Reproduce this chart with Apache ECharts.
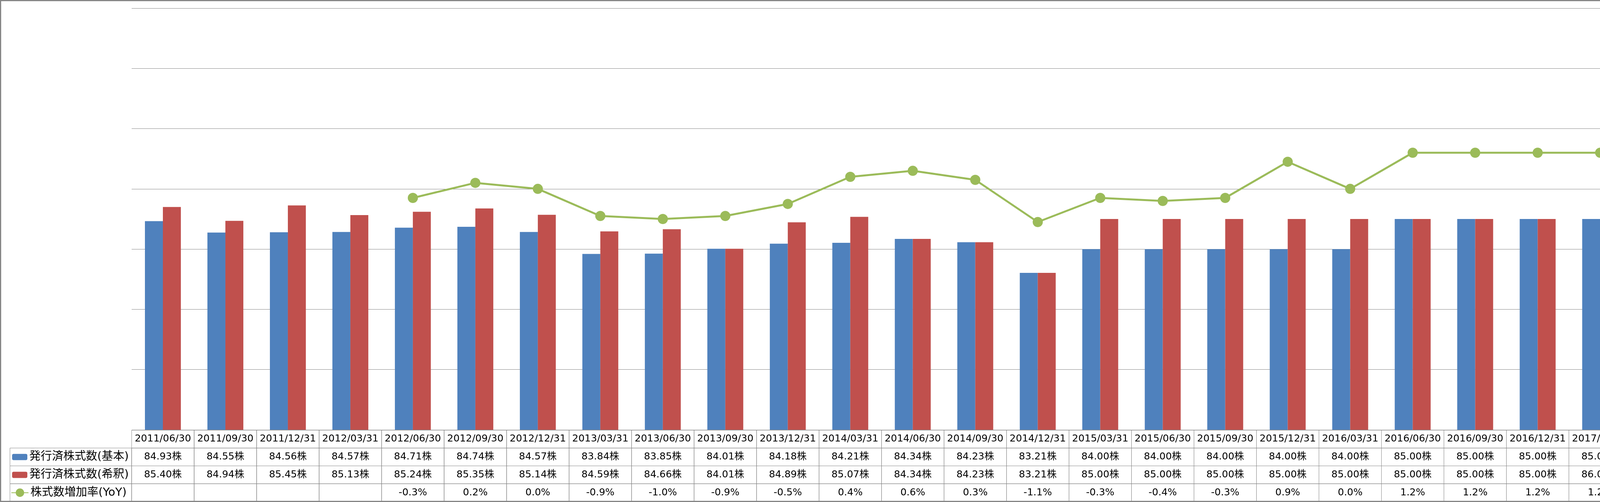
<!DOCTYPE html>
<html><head><meta charset="utf-8">
<script src="https://cdn.jsdelivr.net/npm/echarts@6/dist/echarts.min.js"></script>
<style>html,body{margin:0;padding:0;background:#fff;overflow:hidden}#c{width:7052px;height:1286px}</style>
</head><body><div id="c"></div>
<script>
const categories = ['2011/06/30','2011/09/30','2011/12/31','2012/03/31','2012/06/30','2012/09/30','2012/12/31','2013/03/31','2013/06/30','2013/09/30','2013/12/31','2014/03/31','2014/06/30','2014/09/30','2014/12/31','2015/03/31','2015/06/30','2015/09/30','2015/12/31','2016/03/31','2016/06/30','2016/09/30','2016/12/31','2017/03/31','2017/06/30','2017/09/30','2017/12/31','2018/03/31','2018/06/30','2018/09/30','2018/12/31','2019/03/31','2019/06/30','2019/09/30','2019/12/31','2020/03/31','2020/06/30','2020/09/30','2020/12/31','2021/03/31'];
const basicShares = [84.93,84.55,84.56,84.57,84.71,84.74,84.57,83.84,83.85,84.01,84.18,84.21,84.34,84.23,83.21,84.00,84.00,84.00,84.00,84.00,85.00,85.00,85.00,85.00,85.00,85.00,85.00,85.00,86.00,86.00,89.00,86.00,87.00,86.00,83.00,86.00,86.00,86.00,86.00,86.00];
const dilutedShares = [85.40,84.94,85.45,85.13,85.24,85.35,85.14,84.59,84.66,84.01,84.89,85.07,84.34,84.23,83.21,85.00,85.00,85.00,85.00,85.00,85.00,85.00,85.00,86.00,86.00,85.00,89.00,86.00,86.00,87.00,90.00,88.00,88.00,88.00,88.00,88.00,87.00,88.00,87.00,88.00];
const yoyGrowth = [null,null,null,null,-0.3,0.2,0.0,-0.9,-1.0,-0.9,-0.5,0.4,0.6,0.3,-1.1,-0.3,-0.4,-0.3,0.9,0.0,1.2,1.2,1.2,1.2,0.0,0.0,0.0,0.0,1.2,1.2,4.7,1.2,1.2,0.0,-6.7,0.0,-1.1,0.0,3.6,0.0];
const shareTicks = [78,80,82,84,86,88,90,92];
const pctTicks = [-8,-6,-4,-2,0,2,4,6];

const nameBasic = '発行済株式数(基本)';
const nameDiluted = '発行済株式数(希釈)';
const nameYoy = '株式数増加率(YoY)';
const unitText = '（単位:百万株）';

const FONT = '"DejaVu Sans", "Noto Sans CJK JP", sans-serif';
const BLUE = '#4F81BD', RED = '#C0504D', GREEN = '#9BBB59', BORDER = '#898989';

const tableData = [], tableText = [];
categories.forEach((c, i) => {
  const rows = [
    c,
    basicShares[i].toFixed(2) + '株',
    dilutedShares[i].toFixed(2) + '株',
    yoyGrowth[i] == null ? '' : yoyGrowth[i].toFixed(1) + '%'
  ];
  rows.forEach((t, r) => { tableData.push([i, r]); tableText.push(t); });
});

const W = 7052, H = 1286;
const plotLeft = 337, plotRight = 6736, plotTop = 21, plotBottom = 1101;
const tableTop = 1102, tableBottom = 1285;
const rowH = (tableBottom - tableTop) / 4;
const legendColLeft = 25.5;

const chart = echarts.init(document.getElementById('c'), null, {renderer: 'canvas'});

function legendItem(name, left, rowIdx, isLine) {
  const cy = tableTop + rowH * (rowIdx + 0.5);
  const ih = isLine ? 27 : 16;
  const h = 29;
  return {
    data: [name], left: left, top: cy - h / 2, padding: 0,
    itemWidth: isLine ? 44 : 39, itemHeight: ih, itemGap: 0,
    textStyle: {fontSize: 29, color: '#000', fontFamily: FONT, padding: [0,0,0,0]},
    selectedMode: false
  };
}

const graphics = [];
for (let r = 1; r < 4; r++) {
  graphics.push({type: 'rect', shape: {x: legendColLeft, y: tableTop + rowH * r, width: plotLeft - legendColLeft, height: rowH},
    style: {fill: 'none', stroke: BORDER, lineWidth: 1}, silent: true, z: 10});
}
graphics.push({type: 'text', left: 6757, top: 1123, style: {text: unitText, fontSize: 22, fill: '#000', fontFamily: FONT}, silent: true});
graphics.push({type: 'rect', shape: {x: 1.5, y: 1.5, width: W - 4, height: H - 3}, style: {fill: 'none', stroke: '#868686', lineWidth: 3}, silent: true, z: 20});

const option = {
  animation: false,
  backgroundColor: '#fff',
  textStyle: {fontFamily: FONT},
  grid: [
    {left: plotLeft, right: W - plotRight, top: plotTop, height: plotBottom - plotTop, containLabel: false},
    {left: plotLeft, right: W - plotRight, top: tableTop, height: tableBottom - tableTop, containLabel: false}
  ],
  legend: [
    legendItem(nameBasic, 31, 1, false),
    legendItem(nameDiluted, 31, 2, false),
    legendItem(nameYoy, 28, 3, true),
    legendItem(nameBasic, 6743, 1, false),
    legendItem(nameDiluted, 6743, 2, false),
    legendItem(nameYoy, 6740, 3, true)
  ],
  xAxis: [
    {type: 'category', gridIndex: 0, data: categories, boundaryGap: true,
      axisLine: {show: false}, axisTick: {show: false}, axisLabel: {show: false}, splitLine: {show: false}},
    {type: 'category', gridIndex: 1, data: categories, boundaryGap: true, show: false}
  ],
  yAxis: [
    {type: 'value', gridIndex: 0, min: shareTicks[0], max: shareTicks[shareTicks.length - 1], interval: shareTicks[1] - shareTicks[0],
      position: 'right', offset: 90,
      axisLine: {show: true, lineStyle: {color: '#00FF00', width: 1.2, type: [5, 4]}},
      axisTick: {show: true, inside: false, length: 9, lineStyle: {color: '#00FF00', width: 1.2, type: [3, 3]}},
      axisLabel: {inside: true, margin: 5, formatter: '{value}株', fontSize: 24, color: '#000', fontFamily: FONT},
      splitLine: {show: true, lineStyle: {color: '#888888', width: 1.2}}},
    {type: 'value', gridIndex: 0, min: pctTicks[0], max: pctTicks[pctTicks.length - 1], interval: pctTicks[1] - pctTicks[0],
      position: 'right', offset: 90,
      axisLine: {show: false}, axisTick: {show: false},
      axisLabel: {margin: 29, fontSize: 24, fontFamily: FONT,
        formatter: v => v.toFixed(2) + '%',
        color: v => (parseFloat(v) < 0 ? '#FF0000' : '#000')},
      splitLine: {show: false}},
    {type: 'value', gridIndex: 0, min: shareTicks[0], max: shareTicks[shareTicks.length - 1], position: 'right', offset: 0,
      axisLine: {show: true, lineStyle: {color: BORDER, width: 1}}, axisTick: {show: false}, axisLabel: {show: false}, splitLine: {show: false}},
    {type: 'category', gridIndex: 1, data: ['0', '1', '2', '3'], inverse: true, show: false}
  ],
  series: [
    {name: nameBasic, type: 'bar', xAxisIndex: 0, yAxisIndex: 0, data: basicShares,
      itemStyle: {color: BLUE}, barGap: '0%', barCategoryGap: '42.5%', clip: true},
    {name: nameDiluted, type: 'bar', xAxisIndex: 0, yAxisIndex: 0, data: dilutedShares,
      itemStyle: {color: RED}, barGap: '0%', barCategoryGap: '42.5%', clip: true},
    {name: nameYoy, type: 'line', xAxisIndex: 0, yAxisIndex: 1, data: yoyGrowth,
      lineStyle: {color: GREEN, width: 5}, itemStyle: {color: GREEN}, symbol: 'circle', symbolSize: 26, z: 5},
    {type: 'custom', xAxisIndex: 1, yAxisIndex: 3, data: tableData, silent: true,
      renderItem: function (params, api) {
        const c = api.coord([api.value(0), api.value(1)]);
        const s = api.size([1, 1]);
        return {type: 'group', children: [
          {type: 'rect', shape: {x: c[0] - s[0] / 2, y: c[1] - s[1] / 2, width: s[0], height: s[1]},
            style: {fill: 'none', stroke: BORDER, lineWidth: 1}},
          {type: 'text', style: {text: tableText[params.dataIndex], x: c[0], y: c[1], align: 'center', verticalAlign: 'middle',
            fontSize: 25, fontFamily: FONT, fill: '#000'}}
        ]};
      }}
  ],
  graphic: graphics
};
chart.setOption(option);
</script></body></html>
